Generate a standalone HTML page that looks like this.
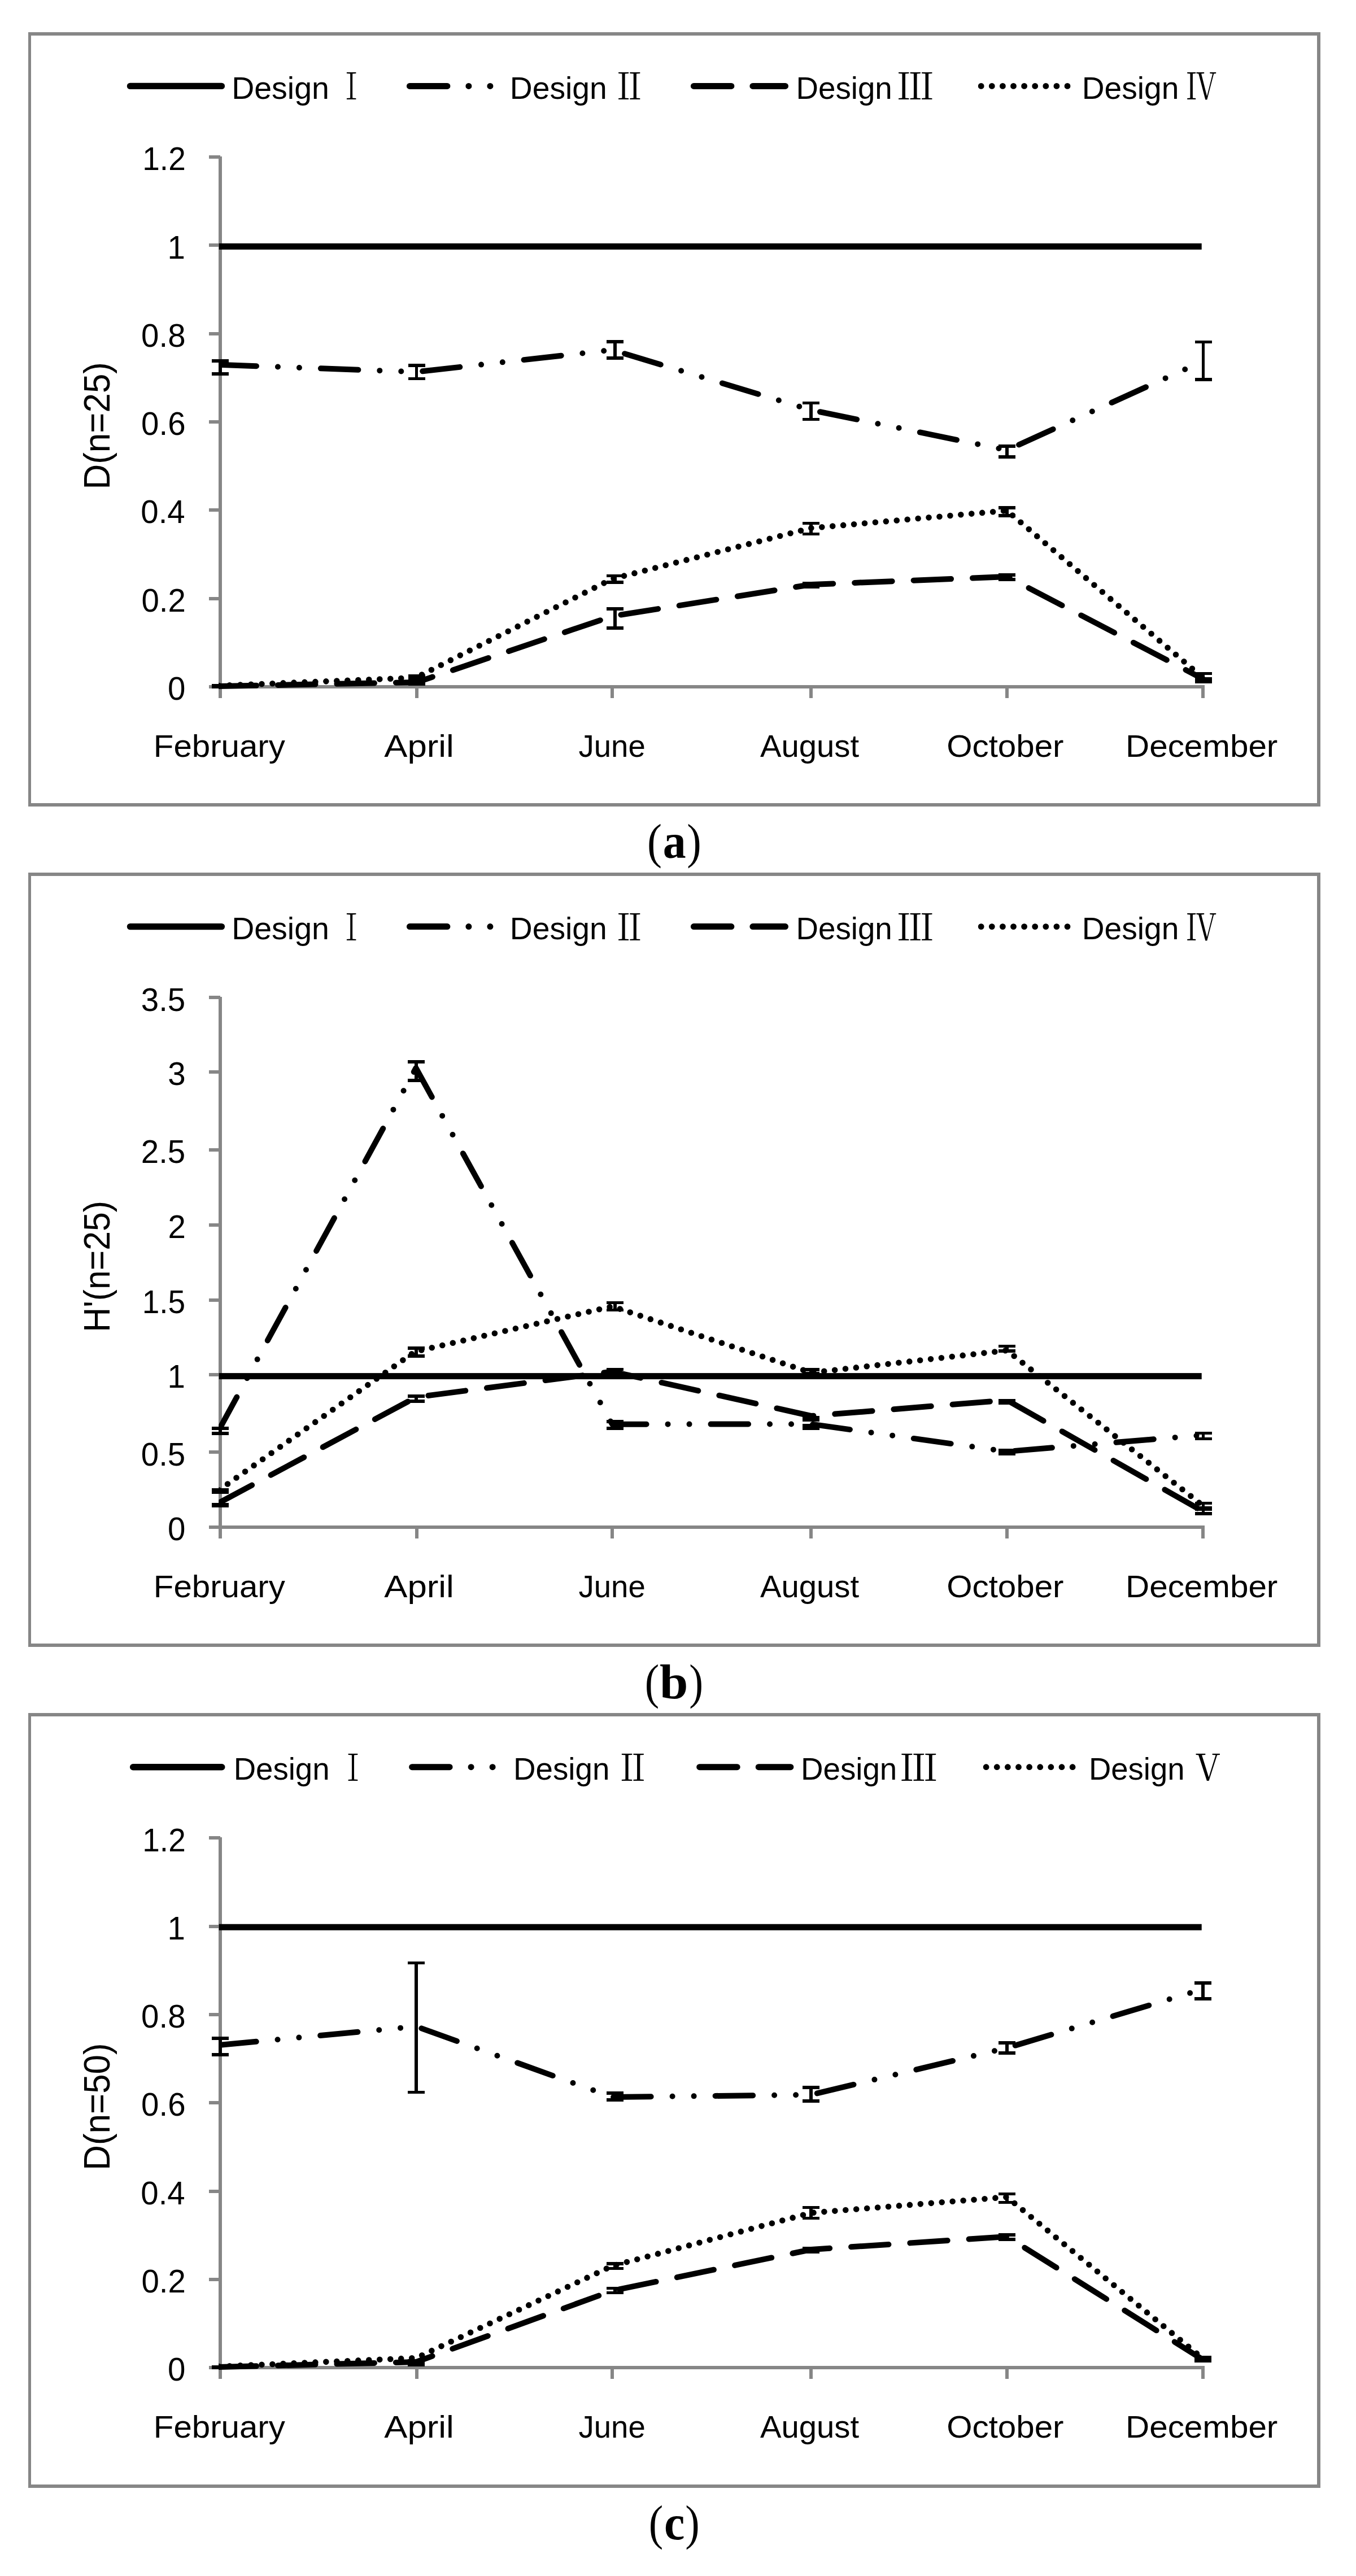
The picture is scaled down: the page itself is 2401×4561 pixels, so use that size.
<!DOCTYPE html>
<html lang="en"><head><meta charset="utf-8"><title>Figure</title>
<style>html,body{margin:0;padding:0;background:#fff}svg{display:block}text{fill:#000}</style></head><body>
<svg width="2401" height="4561" viewBox="0 0 2401 4561">
<rect width="2401" height="4561" fill="#fff"/>
<g>
<path fill="#868686" fill-rule="evenodd" shape-rendering="crispEdges" d="M50 57H2338V1428H50ZM55 63V1422H2332V63Z"/>
<clipPath id="cp1"><rect x="387.2" y="238" width="1800" height="998"/></clipPath>
<g fill="#868686" shape-rendering="crispEdges">
<rect x="387" y="277" width="6" height="959"/>
<rect x="370" y="1213" width="1763" height="6"/>
<rect x="370" y="275" width="20" height="6"/>
<rect x="370" y="431" width="20" height="6"/>
<rect x="370" y="588" width="20" height="6"/>
<rect x="370" y="744" width="20" height="6"/>
<rect x="370" y="900" width="20" height="6"/>
<rect x="370" y="1057" width="20" height="6"/>
<rect x="735" y="1216" width="6" height="20"/>
<rect x="1081" y="1216" width="6" height="20"/>
<rect x="1433" y="1216" width="6" height="20"/>
<rect x="1780" y="1216" width="6" height="20"/>
<rect x="2127" y="1216" width="6" height="20"/>
</g>
<text x="252.29" y="301.20" font-family="&quot;Liberation Sans&quot;, sans-serif" font-size="57" textLength="76.47" lengthAdjust="spacingAndGlyphs">1.2</text>
<text x="296.50" y="457.52" font-family="&quot;Liberation Sans&quot;, sans-serif" font-size="57" textLength="31.38" lengthAdjust="spacingAndGlyphs">1</text>
<text x="250.10" y="613.84" font-family="&quot;Liberation Sans&quot;, sans-serif" font-size="57" textLength="78.45" lengthAdjust="spacingAndGlyphs">0.8</text>
<text x="250.10" y="770.16" font-family="&quot;Liberation Sans&quot;, sans-serif" font-size="57" textLength="78.45" lengthAdjust="spacingAndGlyphs">0.6</text>
<text x="249.26" y="926.48" font-family="&quot;Liberation Sans&quot;, sans-serif" font-size="57" textLength="78.45" lengthAdjust="spacingAndGlyphs">0.4</text>
<text x="250.38" y="1082.80" font-family="&quot;Liberation Sans&quot;, sans-serif" font-size="57" textLength="78.45" lengthAdjust="spacingAndGlyphs">0.2</text>
<text x="296.94" y="1239.12" font-family="&quot;Liberation Sans&quot;, sans-serif" font-size="57" textLength="31.38" lengthAdjust="spacingAndGlyphs">0</text>
<text x="271.84" y="1339.60" font-family="&quot;Liberation Sans&quot;, sans-serif" font-size="56" textLength="233.04" lengthAdjust="spacingAndGlyphs">February</text>
<text x="680.19" y="1339.60" font-family="&quot;Liberation Sans&quot;, sans-serif" font-size="56" textLength="123.56" lengthAdjust="spacingAndGlyphs">April</text>
<text x="1024.48" y="1339.60" font-family="&quot;Liberation Sans&quot;, sans-serif" font-size="56" textLength="118.29" lengthAdjust="spacingAndGlyphs">June</text>
<text x="1345.92" y="1339.60" font-family="&quot;Liberation Sans&quot;, sans-serif" font-size="56" textLength="175.25" lengthAdjust="spacingAndGlyphs">August</text>
<text x="1676.18" y="1339.60" font-family="&quot;Liberation Sans&quot;, sans-serif" font-size="56" textLength="207.32" lengthAdjust="spacingAndGlyphs">October</text>
<text x="1993.03" y="1339.60" font-family="&quot;Liberation Sans&quot;, sans-serif" font-size="56" textLength="269.31" lengthAdjust="spacingAndGlyphs">December</text>
<text transform="translate(194.0 861.6) rotate(-90)" x="-4.96" y="0" font-family="&quot;Liberation Sans&quot;, sans-serif" font-size="65" textLength="225.51" lengthAdjust="spacingAndGlyphs">D(n=25)</text>
<line x1="230.5" y1="152.4" x2="392.4" y2="152.4" stroke="#000" stroke-width="11.4" stroke-linecap="round"/>
<text x="410.16" y="174.50" font-family="&quot;Liberation Sans&quot;, sans-serif" font-size="56" textLength="172.70" lengthAdjust="spacingAndGlyphs">Design</text>
<text x="598.67" y="176.30" font-family="&quot;Liberation Serif&quot;, &quot;Noto Serif CJK SC&quot;, serif" font-size="63.6" textLength="46.86" lengthAdjust="spacingAndGlyphs">Ⅰ</text>
<line x1="725.4" y1="152.4" x2="888.4" y2="152.4" stroke="#000" stroke-width="11" stroke-linecap="round" stroke-dasharray="66.50 38.00 0 38.00 0 38.00"/>
<text x="902.78" y="174.50" font-family="&quot;Liberation Sans&quot;, sans-serif" font-size="56" textLength="171.97" lengthAdjust="spacingAndGlyphs">Design</text>
<text x="1083.52" y="176.30" font-family="&quot;Liberation Serif&quot;, &quot;Noto Serif CJK SC&quot;, serif" font-size="63.6" textLength="61.46" lengthAdjust="spacingAndGlyphs">Ⅱ</text>
<line x1="1228.4" y1="152.4" x2="1390.5" y2="152.4" stroke="#000" stroke-width="11" stroke-linecap="round" stroke-dasharray="66.50 38.00"/>
<text x="1409.52" y="174.50" font-family="&quot;Liberation Sans&quot;, sans-serif" font-size="56" textLength="170.29" lengthAdjust="spacingAndGlyphs">Design</text>
<text x="1587.70" y="176.30" font-family="&quot;Liberation Serif&quot;, &quot;Noto Serif CJK SC&quot;, serif" font-size="63.6" textLength="66.01" lengthAdjust="spacingAndGlyphs">Ⅲ</text>
<line x1="1737.2" y1="152.4" x2="1895.0" y2="152.4" stroke="#000" stroke-width="10.8" stroke-linecap="round" stroke-dasharray="0 19.100"/>
<text x="1915.79" y="174.50" font-family="&quot;Liberation Sans&quot;, sans-serif" font-size="56" textLength="171.55" lengthAdjust="spacingAndGlyphs">Design</text>
<text x="2100.39" y="176.30" font-family="&quot;Liberation Serif&quot;, &quot;Noto Serif CJK SC&quot;, serif" font-size="63.6" textLength="53.69" lengthAdjust="spacingAndGlyphs">Ⅳ</text>
<polyline points="387.5,645.8 737.6,658.5 1084.0,619.5 1436.0,726.0 1783.0,797.0 2130.0,639.5" fill="none" stroke="#000" stroke-width="10.0" stroke-linecap="round" stroke-linejoin="round" stroke-dasharray="66.50 38.00 0 38.00 0 38.00" clip-path="url(#cp1)"/>
<polyline points="387.5,1215.0 738.0,1208.0 1084.0,1091.0 1436.0,1035.0 1783.0,1021.0 2130.0,1202.0" fill="none" stroke="#000" stroke-width="10.0" stroke-linecap="round" stroke-linejoin="round" stroke-dasharray="66.50 38.00" clip-path="url(#cp1)"/>
<polyline points="387.5,1214.0 736.0,1200.0 1084.0,1025.0 1436.0,935.0 1783.0,904.0 2130.0,1200.0" fill="none" stroke="#000" stroke-width="10.6" stroke-linecap="round" stroke-linejoin="round" stroke-dasharray="0 19.00" clip-path="url(#cp1)"/>
<rect x="387.6" y="430.9" width="1740.1" height="11" fill="#000"/>
<path d="M375.0 1213.5H405.0M375.0 1216.0H405.0M390.0 1213.5V1216.0" stroke="#000" stroke-width="5.6" fill="none" shape-rendering="crispEdges"/>
<path d="M375.0 638.7H405.0M375.0 662.0H405.0M390.0 638.7V662.0" stroke="#000" stroke-width="5.6" fill="none" shape-rendering="crispEdges"/>
<path d="M722.6 646.7H752.6M722.6 670.4H752.6M737.6 646.7V670.4" stroke="#000" stroke-width="5.6" fill="none" shape-rendering="crispEdges"/>
<path d="M1074.0 605.0H1104.0M1074.0 634.0H1104.0M1089.0 605.0V634.0" stroke="#000" stroke-width="5.6" fill="none" shape-rendering="crispEdges"/>
<path d="M1421.0 713.4H1451.0M1421.0 742.5H1451.0M1436.0 713.4V742.5" stroke="#000" stroke-width="5.6" fill="none" shape-rendering="crispEdges"/>
<path d="M1768.0 790.1H1798.0M1768.0 808.8H1798.0M1783.0 790.1V808.8" stroke="#000" stroke-width="5.6" fill="none" shape-rendering="crispEdges"/>
<path d="M2115.5 605.3H2145.5M2115.5 671.7H2145.5M2130.5 605.3V671.7" stroke="#000" stroke-width="5.6" fill="none" shape-rendering="crispEdges"/>
<path d="M722.5 1206.0H752.5M722.5 1211.5H752.5M737.5 1206.0V1211.5" stroke="#000" stroke-width="5.6" fill="none" shape-rendering="crispEdges"/>
<path d="M1074.0 1078.1H1104.0M1074.0 1112.2H1104.0M1089.0 1078.1V1112.2" stroke="#000" stroke-width="5.6" fill="none" shape-rendering="crispEdges"/>
<path d="M1421.0 1032.5H1451.0M1421.0 1039.0H1451.0M1436.0 1032.5V1039.0" stroke="#000" stroke-width="5.6" fill="none" shape-rendering="crispEdges"/>
<path d="M1768.0 1018.0H1798.0M1768.0 1026.0H1798.0M1783.0 1018.0V1026.0" stroke="#000" stroke-width="5.6" fill="none" shape-rendering="crispEdges"/>
<path d="M2115.5 1201.5H2145.5M2115.5 1207.0H2145.5M2130.5 1201.5V1207.0" stroke="#000" stroke-width="5.6" fill="none" shape-rendering="crispEdges"/>
<path d="M722.5 1197.0H752.5M722.5 1203.0H752.5M737.5 1197.0V1203.0" stroke="#000" stroke-width="5.6" fill="none" shape-rendering="crispEdges"/>
<path d="M1074.0 1019.3H1104.0M1074.0 1031.2H1104.0M1089.0 1019.3V1031.2" stroke="#000" stroke-width="5.6" fill="none" shape-rendering="crispEdges"/>
<path d="M1421.0 926.4H1451.0M1421.0 945.4H1451.0M1436.0 926.4V945.4" stroke="#000" stroke-width="5.6" fill="none" shape-rendering="crispEdges"/>
<path d="M1768.0 898.9H1798.0M1768.0 913.1H1798.0M1783.0 898.9V913.1" stroke="#000" stroke-width="5.6" fill="none" shape-rendering="crispEdges"/>
<path d="M2115.5 1192.3H2145.5M2115.5 1201.5H2145.5M2130.5 1192.3V1201.5" stroke="#000" stroke-width="5.6" fill="none" shape-rendering="crispEdges"/>
</g>
<text x="1146.09" y="1518.60" font-family="&quot;Liberation Serif&quot;, serif" font-size="85.8" textLength="25.99" lengthAdjust="spacingAndGlyphs">(</text>
<text x="1173.65" y="1518.60" font-family="&quot;Liberation Serif&quot;, serif" font-size="85.8" font-weight="bold" textLength="40.88" lengthAdjust="spacingAndGlyphs">a</text>
<text x="1216.30" y="1518.60" font-family="&quot;Liberation Serif&quot;, serif" font-size="85.8" textLength="25.49" lengthAdjust="spacingAndGlyphs">)</text>
<g>
<path fill="#868686" fill-rule="evenodd" shape-rendering="crispEdges" d="M50 1545H2338V2916H50ZM55 1551V2910H2332V1551Z"/>
<clipPath id="cp2"><rect x="387.2" y="1726" width="1800" height="998"/></clipPath>
<g fill="#868686" shape-rendering="crispEdges">
<rect x="387" y="1765" width="6" height="959"/>
<rect x="370" y="2701" width="1763" height="6"/>
<rect x="370" y="1763" width="20" height="6"/>
<rect x="370" y="1895" width="20" height="6"/>
<rect x="370" y="2033" width="20" height="6"/>
<rect x="370" y="2166" width="20" height="6"/>
<rect x="370" y="2299" width="20" height="6"/>
<rect x="370" y="2431" width="20" height="6"/>
<rect x="370" y="2568" width="20" height="6"/>
<rect x="735" y="2704" width="6" height="20"/>
<rect x="1081" y="2704" width="6" height="20"/>
<rect x="1433" y="2704" width="6" height="20"/>
<rect x="1780" y="2704" width="6" height="20"/>
<rect x="2127" y="2704" width="6" height="20"/>
</g>
<text x="249.82" y="1789.60" font-family="&quot;Liberation Sans&quot;, sans-serif" font-size="57" textLength="78.45" lengthAdjust="spacingAndGlyphs">3.5</text>
<text x="297.22" y="1921.40" font-family="&quot;Liberation Sans&quot;, sans-serif" font-size="57" textLength="31.38" lengthAdjust="spacingAndGlyphs">3</text>
<text x="249.82" y="2058.90" font-family="&quot;Liberation Sans&quot;, sans-serif" font-size="57" textLength="78.45" lengthAdjust="spacingAndGlyphs">2.5</text>
<text x="297.50" y="2191.90" font-family="&quot;Liberation Sans&quot;, sans-serif" font-size="57" textLength="31.38" lengthAdjust="spacingAndGlyphs">2</text>
<text x="251.74" y="2324.70" font-family="&quot;Liberation Sans&quot;, sans-serif" font-size="57" textLength="76.47" lengthAdjust="spacingAndGlyphs">1.5</text>
<text x="296.50" y="2457.20" font-family="&quot;Liberation Sans&quot;, sans-serif" font-size="57" textLength="31.38" lengthAdjust="spacingAndGlyphs">1</text>
<text x="249.82" y="2594.60" font-family="&quot;Liberation Sans&quot;, sans-serif" font-size="57" textLength="78.45" lengthAdjust="spacingAndGlyphs">0.5</text>
<text x="296.94" y="2727.10" font-family="&quot;Liberation Sans&quot;, sans-serif" font-size="57" textLength="31.38" lengthAdjust="spacingAndGlyphs">0</text>
<text x="271.84" y="2827.80" font-family="&quot;Liberation Sans&quot;, sans-serif" font-size="56" textLength="233.04" lengthAdjust="spacingAndGlyphs">February</text>
<text x="680.19" y="2827.80" font-family="&quot;Liberation Sans&quot;, sans-serif" font-size="56" textLength="123.56" lengthAdjust="spacingAndGlyphs">April</text>
<text x="1024.48" y="2827.80" font-family="&quot;Liberation Sans&quot;, sans-serif" font-size="56" textLength="118.29" lengthAdjust="spacingAndGlyphs">June</text>
<text x="1345.92" y="2827.80" font-family="&quot;Liberation Sans&quot;, sans-serif" font-size="56" textLength="175.25" lengthAdjust="spacingAndGlyphs">August</text>
<text x="1676.18" y="2827.80" font-family="&quot;Liberation Sans&quot;, sans-serif" font-size="56" textLength="207.32" lengthAdjust="spacingAndGlyphs">October</text>
<text x="1993.03" y="2827.80" font-family="&quot;Liberation Sans&quot;, sans-serif" font-size="56" textLength="269.31" lengthAdjust="spacingAndGlyphs">December</text>
<text transform="translate(194.0 2353.8) rotate(-90)" x="-4.86" y="0" font-family="&quot;Liberation Sans&quot;, sans-serif" font-size="65" textLength="232.59" lengthAdjust="spacingAndGlyphs">H'(n=25)</text>
<line x1="230.5" y1="1640.6" x2="392.4" y2="1640.6" stroke="#000" stroke-width="11.4" stroke-linecap="round"/>
<text x="410.16" y="1662.70" font-family="&quot;Liberation Sans&quot;, sans-serif" font-size="56" textLength="172.70" lengthAdjust="spacingAndGlyphs">Design</text>
<text x="598.67" y="1664.50" font-family="&quot;Liberation Serif&quot;, &quot;Noto Serif CJK SC&quot;, serif" font-size="63.6" textLength="46.86" lengthAdjust="spacingAndGlyphs">Ⅰ</text>
<line x1="725.4" y1="1640.6" x2="888.4" y2="1640.6" stroke="#000" stroke-width="11" stroke-linecap="round" stroke-dasharray="66.50 38.00 0 38.00 0 38.00"/>
<text x="902.78" y="1662.70" font-family="&quot;Liberation Sans&quot;, sans-serif" font-size="56" textLength="171.97" lengthAdjust="spacingAndGlyphs">Design</text>
<text x="1083.52" y="1664.50" font-family="&quot;Liberation Serif&quot;, &quot;Noto Serif CJK SC&quot;, serif" font-size="63.6" textLength="61.46" lengthAdjust="spacingAndGlyphs">Ⅱ</text>
<line x1="1228.4" y1="1640.6" x2="1390.5" y2="1640.6" stroke="#000" stroke-width="11" stroke-linecap="round" stroke-dasharray="66.50 38.00"/>
<text x="1409.52" y="1662.70" font-family="&quot;Liberation Sans&quot;, sans-serif" font-size="56" textLength="170.29" lengthAdjust="spacingAndGlyphs">Design</text>
<text x="1587.70" y="1664.50" font-family="&quot;Liberation Serif&quot;, &quot;Noto Serif CJK SC&quot;, serif" font-size="63.6" textLength="66.01" lengthAdjust="spacingAndGlyphs">Ⅲ</text>
<line x1="1737.2" y1="1640.6" x2="1895.0" y2="1640.6" stroke="#000" stroke-width="10.8" stroke-linecap="round" stroke-dasharray="0 19.100"/>
<text x="1915.79" y="1662.70" font-family="&quot;Liberation Sans&quot;, sans-serif" font-size="56" textLength="171.55" lengthAdjust="spacingAndGlyphs">Design</text>
<text x="2100.39" y="1664.50" font-family="&quot;Liberation Serif&quot;, &quot;Noto Serif CJK SC&quot;, serif" font-size="63.6" textLength="53.69" lengthAdjust="spacingAndGlyphs">Ⅳ</text>
<polyline points="387.5,2532.0 736.5,1891.0 1084.0,2521.7 1436.0,2521.5 1783.0,2570.0 2130.0,2541.0" fill="none" stroke="#000" stroke-width="10.0" stroke-linecap="round" stroke-linejoin="round" stroke-dasharray="66.50 38.00 0 38.00 0 38.00" clip-path="url(#cp2)"/>
<polyline points="387.5,2661.0 737.0,2473.7 1084.0,2428.5 1436.0,2507.0 1783.0,2479.0 2130.0,2676.0" fill="none" stroke="#000" stroke-width="10.0" stroke-linecap="round" stroke-linejoin="round" stroke-dasharray="66.50 38.00" clip-path="url(#cp2)"/>
<polyline points="387.5,2638.5 735.0,2393.0 1084.0,2313.0 1436.0,2430.5 1783.0,2391.0 2130.0,2666.0" fill="none" stroke="#000" stroke-width="10.6" stroke-linecap="round" stroke-linejoin="round" stroke-dasharray="0 19.00" clip-path="url(#cp2)"/>
<rect x="387.6" y="2431.1" width="1740.1" height="11" fill="#000"/>
<path d="M375.0 2529.0H405.0M375.0 2538.0H405.0M390.0 2529.0V2538.0" stroke="#000" stroke-width="5.6" fill="none" shape-rendering="crispEdges"/>
<path d="M722.0 1880.0H752.0M722.0 1913.2H752.0M737.0 1880.0V1913.2" stroke="#000" stroke-width="5.6" fill="none" shape-rendering="crispEdges"/>
<path d="M1074.0 2517.0H1104.0M1074.0 2529.0H1104.0M1089.0 2517.0V2529.0" stroke="#000" stroke-width="5.6" fill="none" shape-rendering="crispEdges"/>
<path d="M1421.0 2524.0H1451.0M1421.0 2529.0H1451.0M1436.0 2524.0V2529.0" stroke="#000" stroke-width="5.6" fill="none" shape-rendering="crispEdges"/>
<path d="M1768.0 2568.0H1798.0M1768.0 2574.0H1798.0M1783.0 2568.0V2574.0" stroke="#000" stroke-width="5.6" fill="none" shape-rendering="crispEdges"/>
<path d="M2115.5 2537.5H2145.5M2115.5 2547.5H2145.5M2130.5 2537.5V2547.5" stroke="#000" stroke-width="5.6" fill="none" shape-rendering="crispEdges"/>
<path d="M375.0 2663.5H405.0M375.0 2665.8H405.0M390.0 2663.5V2665.8" stroke="#000" stroke-width="5.6" fill="none" shape-rendering="crispEdges"/>
<path d="M722.0 2471.7H752.0M722.0 2481.2H752.0M737.0 2471.7V2481.2" stroke="#000" stroke-width="5.6" fill="none" shape-rendering="crispEdges"/>
<path d="M1074.0 2424.5H1104.0M1074.0 2432.0H1104.0M1089.0 2424.5V2432.0" stroke="#000" stroke-width="5.6" fill="none" shape-rendering="crispEdges"/>
<path d="M1421.0 2509.7H1451.0M1421.0 2513.7H1451.0M1436.0 2509.7V2513.7" stroke="#000" stroke-width="5.6" fill="none" shape-rendering="crispEdges"/>
<path d="M1768.0 2479.5H1798.0M1768.0 2484.0H1798.0M1783.0 2479.5V2484.0" stroke="#000" stroke-width="5.6" fill="none" shape-rendering="crispEdges"/>
<path d="M2115.5 2672.0H2145.5M2115.5 2680.0H2145.5M2130.5 2672.0V2680.0" stroke="#000" stroke-width="5.6" fill="none" shape-rendering="crispEdges"/>
<path d="M375.0 2637.5H405.0M375.0 2642.0H405.0M390.0 2637.5V2642.0" stroke="#000" stroke-width="5.6" fill="none" shape-rendering="crispEdges"/>
<path d="M722.0 2386.8H752.0M722.0 2401.0H752.0M737.0 2386.8V2401.0" stroke="#000" stroke-width="5.6" fill="none" shape-rendering="crispEdges"/>
<path d="M1074.0 2306.4H1104.0M1074.0 2319.4H1104.0M1089.0 2306.4V2319.4" stroke="#000" stroke-width="5.6" fill="none" shape-rendering="crispEdges"/>
<path d="M1421.0 2425.0H1451.0M1421.0 2432.0H1451.0M1436.0 2425.0V2432.0" stroke="#000" stroke-width="5.6" fill="none" shape-rendering="crispEdges"/>
<path d="M1768.0 2383.5H1798.0M1768.0 2391.7H1798.0M1783.0 2383.5V2391.7" stroke="#000" stroke-width="5.6" fill="none" shape-rendering="crispEdges"/>
<path d="M2115.5 2661.5H2145.5M2115.5 2669.5H2145.5M2130.5 2661.5V2669.5" stroke="#000" stroke-width="5.6" fill="none" shape-rendering="crispEdges"/>
</g>
<text x="1141.66" y="3007.30" font-family="&quot;Liberation Serif&quot;, serif" font-size="85.8" textLength="25.47" lengthAdjust="spacingAndGlyphs">(</text>
<text x="1168.14" y="3007.30" font-family="&quot;Liberation Serif&quot;, serif" font-size="85.8" font-weight="bold" textLength="50.39" lengthAdjust="spacingAndGlyphs">b</text>
<text x="1220.36" y="3007.30" font-family="&quot;Liberation Serif&quot;, serif" font-size="85.8" textLength="24.85" lengthAdjust="spacingAndGlyphs">)</text>
<g>
<path fill="#868686" fill-rule="evenodd" shape-rendering="crispEdges" d="M50 3033H2338V4404.5H50ZM55 3039V4398.5H2332V3039Z"/>
<clipPath id="cp3"><rect x="387.2" y="3214" width="1800" height="998"/></clipPath>
<g fill="#868686" shape-rendering="crispEdges">
<rect x="387" y="3253" width="6" height="959"/>
<rect x="370" y="4189" width="1763" height="6"/>
<rect x="370" y="3251" width="20" height="6"/>
<rect x="370" y="3408" width="20" height="6"/>
<rect x="370" y="3564" width="20" height="6"/>
<rect x="370" y="3720" width="20" height="6"/>
<rect x="370" y="3877" width="20" height="6"/>
<rect x="370" y="4033" width="20" height="6"/>
<rect x="735" y="4192" width="6" height="20"/>
<rect x="1081" y="4192" width="6" height="20"/>
<rect x="1433" y="4192" width="6" height="20"/>
<rect x="1780" y="4192" width="6" height="20"/>
<rect x="2127" y="4192" width="6" height="20"/>
</g>
<text x="252.29" y="3277.50" font-family="&quot;Liberation Sans&quot;, sans-serif" font-size="57" textLength="76.47" lengthAdjust="spacingAndGlyphs">1.2</text>
<text x="296.50" y="3433.82" font-family="&quot;Liberation Sans&quot;, sans-serif" font-size="57" textLength="31.38" lengthAdjust="spacingAndGlyphs">1</text>
<text x="250.10" y="3590.14" font-family="&quot;Liberation Sans&quot;, sans-serif" font-size="57" textLength="78.45" lengthAdjust="spacingAndGlyphs">0.8</text>
<text x="250.10" y="3746.46" font-family="&quot;Liberation Sans&quot;, sans-serif" font-size="57" textLength="78.45" lengthAdjust="spacingAndGlyphs">0.6</text>
<text x="249.26" y="3902.78" font-family="&quot;Liberation Sans&quot;, sans-serif" font-size="57" textLength="78.45" lengthAdjust="spacingAndGlyphs">0.4</text>
<text x="250.38" y="4059.10" font-family="&quot;Liberation Sans&quot;, sans-serif" font-size="57" textLength="78.45" lengthAdjust="spacingAndGlyphs">0.2</text>
<text x="296.94" y="4215.42" font-family="&quot;Liberation Sans&quot;, sans-serif" font-size="57" textLength="31.38" lengthAdjust="spacingAndGlyphs">0</text>
<text x="271.84" y="4315.90" font-family="&quot;Liberation Sans&quot;, sans-serif" font-size="56" textLength="233.04" lengthAdjust="spacingAndGlyphs">February</text>
<text x="680.19" y="4315.90" font-family="&quot;Liberation Sans&quot;, sans-serif" font-size="56" textLength="123.56" lengthAdjust="spacingAndGlyphs">April</text>
<text x="1024.48" y="4315.90" font-family="&quot;Liberation Sans&quot;, sans-serif" font-size="56" textLength="118.29" lengthAdjust="spacingAndGlyphs">June</text>
<text x="1345.92" y="4315.90" font-family="&quot;Liberation Sans&quot;, sans-serif" font-size="56" textLength="175.25" lengthAdjust="spacingAndGlyphs">August</text>
<text x="1676.18" y="4315.90" font-family="&quot;Liberation Sans&quot;, sans-serif" font-size="56" textLength="207.32" lengthAdjust="spacingAndGlyphs">October</text>
<text x="1993.03" y="4315.90" font-family="&quot;Liberation Sans&quot;, sans-serif" font-size="56" textLength="269.31" lengthAdjust="spacingAndGlyphs">December</text>
<text transform="translate(194.0 3837.9) rotate(-90)" x="-4.96" y="0" font-family="&quot;Liberation Sans&quot;, sans-serif" font-size="65" textLength="225.51" lengthAdjust="spacingAndGlyphs">D(n=50)</text>
<line x1="235.6" y1="3128.7" x2="392.8" y2="3128.7" stroke="#000" stroke-width="11.4" stroke-linecap="round"/>
<text x="413.63" y="3150.80" font-family="&quot;Liberation Sans&quot;, sans-serif" font-size="56" textLength="169.87" lengthAdjust="spacingAndGlyphs">Design</text>
<text x="601.29" y="3152.60" font-family="&quot;Liberation Serif&quot;, &quot;Noto Serif CJK SC&quot;, serif" font-size="63.6" textLength="47.43" lengthAdjust="spacingAndGlyphs">Ⅰ</text>
<line x1="729.6" y1="3128.7" x2="892.6" y2="3128.7" stroke="#000" stroke-width="11" stroke-linecap="round" stroke-dasharray="66.50 38.00 0 38.00 0 38.00"/>
<text x="909.02" y="3150.80" font-family="&quot;Liberation Sans&quot;, sans-serif" font-size="56" textLength="170.39" lengthAdjust="spacingAndGlyphs">Design</text>
<text x="1088.98" y="3152.60" font-family="&quot;Liberation Serif&quot;, &quot;Noto Serif CJK SC&quot;, serif" font-size="63.6" textLength="62.75" lengthAdjust="spacingAndGlyphs">Ⅱ</text>
<line x1="1238.7" y1="3128.7" x2="1399.9" y2="3128.7" stroke="#000" stroke-width="11" stroke-linecap="round" stroke-dasharray="66.50 38.00"/>
<text x="1417.92" y="3150.80" font-family="&quot;Liberation Sans&quot;, sans-serif" font-size="56" textLength="170.39" lengthAdjust="spacingAndGlyphs">Design</text>
<text x="1593.02" y="3152.60" font-family="&quot;Liberation Serif&quot;, &quot;Noto Serif CJK SC&quot;, serif" font-size="63.6" textLength="67.56" lengthAdjust="spacingAndGlyphs">Ⅲ</text>
<line x1="1746.1" y1="3128.7" x2="1904.1" y2="3128.7" stroke="#000" stroke-width="10.8" stroke-linecap="round" stroke-dasharray="0 19.125"/>
<text x="1927.94" y="3150.80" font-family="&quot;Liberation Sans&quot;, sans-serif" font-size="56" textLength="169.55" lengthAdjust="spacingAndGlyphs">Design</text>
<text x="2106.38" y="3152.60" font-family="&quot;Liberation Serif&quot;, &quot;Noto Serif CJK SC&quot;, serif" font-size="63.6" textLength="65.24" lengthAdjust="spacingAndGlyphs">Ⅴ</text>
<polyline points="387.5,3621.0 737.0,3588.0 1084.0,3713.0 1436.0,3709.0 1783.0,3626.0 2130.0,3522.0" fill="none" stroke="#000" stroke-width="10.0" stroke-linecap="round" stroke-linejoin="round" stroke-dasharray="66.50 38.00 0 38.00 0 38.00" clip-path="url(#cp3)"/>
<polyline points="387.5,4191.0 737.0,4182.0 1084.0,4056.0 1436.0,3983.0 1783.0,3960.0 2130.0,4178.0" fill="none" stroke="#000" stroke-width="10.0" stroke-linecap="round" stroke-linejoin="round" stroke-dasharray="66.50 38.00" clip-path="url(#cp3)"/>
<polyline points="387.5,4190.0 737.0,4175.0 1084.0,4012.0 1436.0,3918.0 1783.0,3890.0 2130.0,4176.0" fill="none" stroke="#000" stroke-width="10.6" stroke-linecap="round" stroke-linejoin="round" stroke-dasharray="0 19.00" clip-path="url(#cp3)"/>
<rect x="387.6" y="3406.7" width="1740.1" height="11" fill="#000"/>
<path d="M375.0 4190.5H405.0M375.0 4192.5H405.0M390.0 4190.5V4192.5" stroke="#000" stroke-width="5.6" fill="none" shape-rendering="crispEdges"/>
<path d="M375.0 3609.0H405.0M375.0 3638.0H405.0M390.0 3609.0V3638.0" stroke="#000" stroke-width="5.6" fill="none" shape-rendering="crispEdges"/>
<path d="M722.0 3475.6H752.0M722.0 3704.5H752.0M737.0 3475.6V3704.5" stroke="#000" stroke-width="5.6" fill="none" shape-rendering="crispEdges"/>
<path d="M1074.0 3706.0H1104.0M1074.0 3718.0H1104.0M1089.0 3706.0V3718.0" stroke="#000" stroke-width="5.6" fill="none" shape-rendering="crispEdges"/>
<path d="M1421.0 3696.0H1451.0M1421.0 3720.0H1451.0M1436.0 3696.0V3720.0" stroke="#000" stroke-width="5.6" fill="none" shape-rendering="crispEdges"/>
<path d="M1768.0 3617.0H1798.0M1768.0 3635.0H1798.0M1783.0 3617.0V3635.0" stroke="#000" stroke-width="5.6" fill="none" shape-rendering="crispEdges"/>
<path d="M2115.0 3511.0H2145.0M2115.0 3539.2H2145.0M2130.0 3511.0V3539.2" stroke="#000" stroke-width="5.6" fill="none" shape-rendering="crispEdges"/>
<path d="M722.0 4180.0H752.0M722.0 4187.0H752.0M737.0 4180.0V4187.0" stroke="#000" stroke-width="5.6" fill="none" shape-rendering="crispEdges"/>
<path d="M1074.0 4051.5H1104.0M1074.0 4059.5H1104.0M1089.0 4051.5V4059.5" stroke="#000" stroke-width="5.6" fill="none" shape-rendering="crispEdges"/>
<path d="M1421.0 3980.5H1451.0M1421.0 3986.7H1451.0M1436.0 3980.5V3986.7" stroke="#000" stroke-width="5.6" fill="none" shape-rendering="crispEdges"/>
<path d="M1768.0 3957.0H1798.0M1768.0 3965.0H1798.0M1783.0 3957.0V3965.0" stroke="#000" stroke-width="5.6" fill="none" shape-rendering="crispEdges"/>
<path d="M2115.0 4174.5H2145.0M2115.0 4180.0H2145.0M2130.0 4174.5V4180.0" stroke="#000" stroke-width="5.6" fill="none" shape-rendering="crispEdges"/>
<path d="M722.0 4179.5H752.0M722.0 4184.0H752.0M737.0 4179.5V4184.0" stroke="#000" stroke-width="5.6" fill="none" shape-rendering="crispEdges"/>
<path d="M1074.0 4008.0H1104.0M1074.0 4016.5H1104.0M1089.0 4008.0V4016.5" stroke="#000" stroke-width="5.6" fill="none" shape-rendering="crispEdges"/>
<path d="M1421.0 3908.3H1451.0M1421.0 3927.5H1451.0M1436.0 3908.3V3927.5" stroke="#000" stroke-width="5.6" fill="none" shape-rendering="crispEdges"/>
<path d="M1768.0 3884.4H1798.0M1768.0 3899.6H1798.0M1783.0 3884.4V3899.6" stroke="#000" stroke-width="5.6" fill="none" shape-rendering="crispEdges"/>
<path d="M2115.0 4174.0H2145.0M2115.0 4179.0H2145.0M2130.0 4174.0V4179.0" stroke="#000" stroke-width="5.6" fill="none" shape-rendering="crispEdges"/>
</g>
<text x="1148.76" y="4495.60" font-family="&quot;Liberation Serif&quot;, serif" font-size="85.8" textLength="25.47" lengthAdjust="spacingAndGlyphs">(</text>
<text x="1175.93" y="4495.60" font-family="&quot;Liberation Serif&quot;, serif" font-size="85.8" font-weight="bold" textLength="36.43" lengthAdjust="spacingAndGlyphs">c</text>
<text x="1213.20" y="4495.60" font-family="&quot;Liberation Serif&quot;, serif" font-size="85.8" textLength="25.49" lengthAdjust="spacingAndGlyphs">)</text>
</svg></body></html>
